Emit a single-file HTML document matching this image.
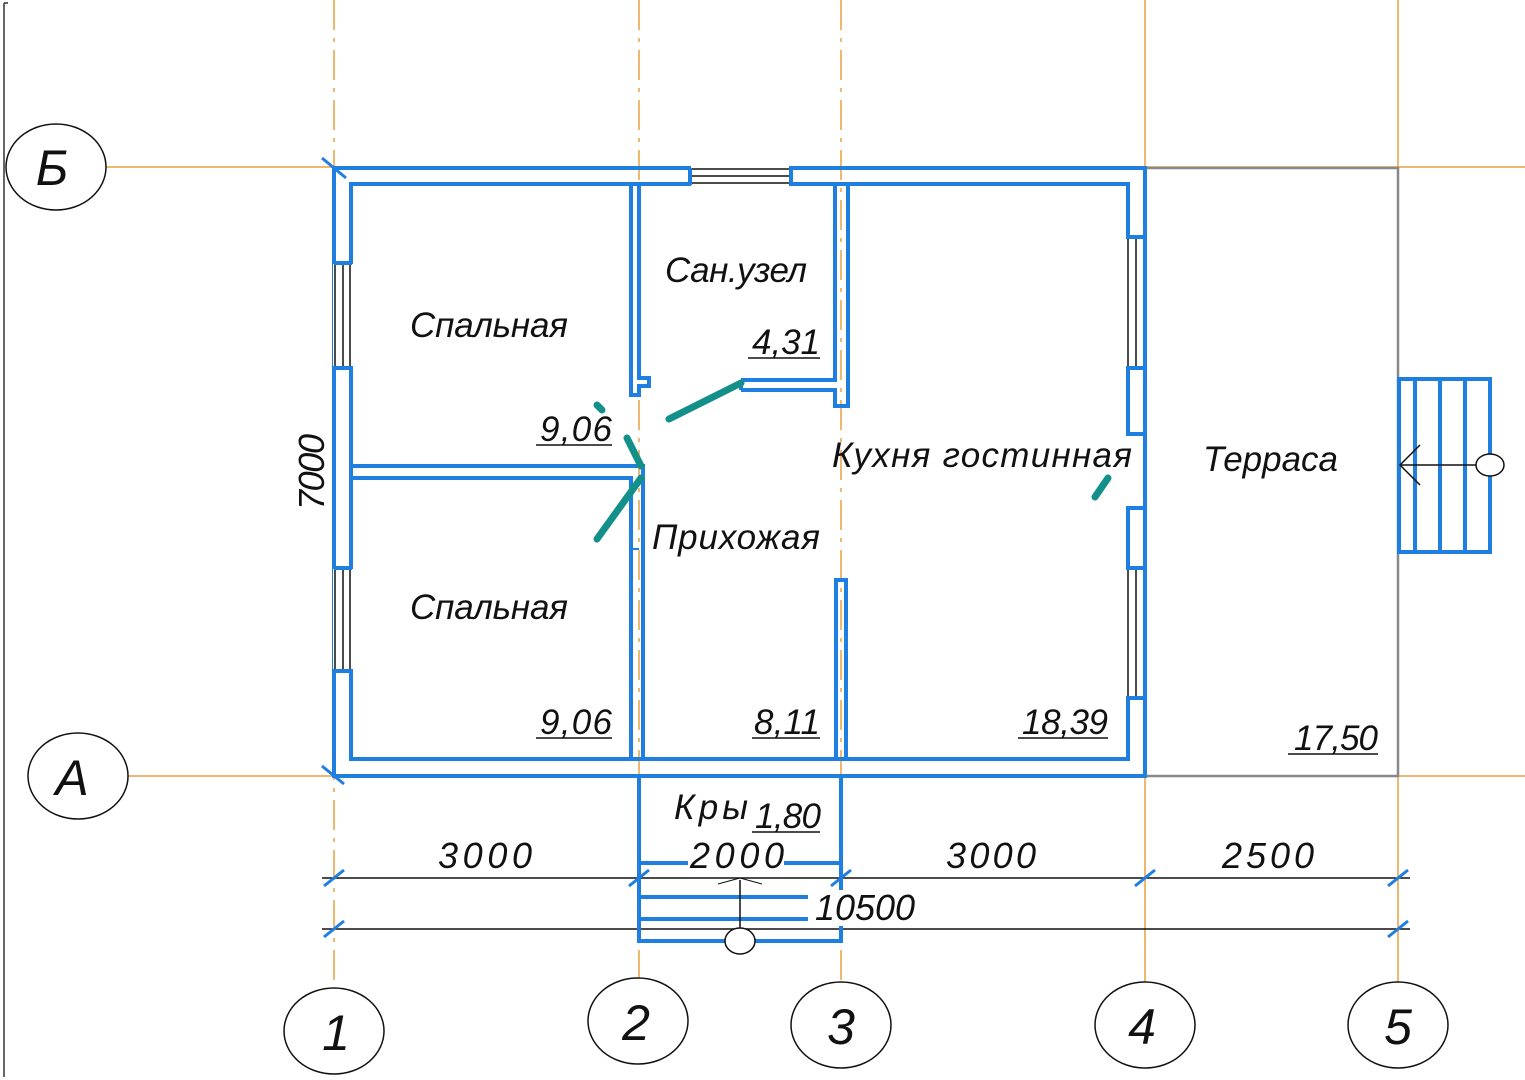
<!DOCTYPE html>
<html><head><meta charset="utf-8"><style>
html,body{margin:0;padding:0;background:#fff;}
svg{display:block;}
text{font-family:"Liberation Sans",sans-serif;font-style:italic;fill:#111;}
</style></head><body>
<svg width="1525" height="1080" viewBox="0 0 1525 1080" xmlns="http://www.w3.org/2000/svg">
<line x1="4" y1="3" x2="4" y2="1077" stroke="#333" stroke-width="1.5"/>
<line x1="4" y1="3" x2="8" y2="3" stroke="#333" stroke-width="1.5"/>
<g stroke="#e8a040" stroke-width="1.5" fill="none">
<line x1="334" y1="0" x2="334" y2="990" stroke-dasharray="30,8,4,8"/>
<line x1="639" y1="0" x2="639" y2="978" stroke-dasharray="30,8,4,8"/>
<line x1="841" y1="0" x2="841" y2="983" stroke-dasharray="30,8,4,8"/>
<line x1="1145" y1="0" x2="1145" y2="983"/>
<line x1="1398" y1="0" x2="1398" y2="983"/>
<line x1="106" y1="167" x2="1525" y2="167"/>
<line x1="128" y1="776" x2="1525" y2="776"/>
</g>
<g stroke="#111" stroke-width="1.5">
<line x1="322" y1="878" x2="1410" y2="878"/>
<line x1="322" y1="929" x2="1410" y2="929"/>
<line x1="333" y1="180" x2="333" y2="770"/>
</g>
<g stroke="#1f7fe0" stroke-width="3">
<line x1="324" y1="886" x2="344" y2="870"/><line x1="629" y1="886" x2="649" y2="870"/>
<line x1="831" y1="886" x2="851" y2="870"/><line x1="1135" y1="886" x2="1155" y2="870"/>
<line x1="1388" y1="886" x2="1408" y2="870"/>
<line x1="324" y1="937" x2="344" y2="921"/><line x1="1388" y1="937" x2="1408" y2="921"/>
<line x1="322" y1="158" x2="346" y2="178"/><line x1="322" y1="766" x2="344" y2="784"/>
</g>
<rect x="1145" y="168" width="253" height="608" fill="none" stroke="#888" stroke-width="2.5"/>
<g stroke="#1f7fe0" stroke-width="4" fill="none">
<rect x="1399" y="379" width="91" height="173"/>
<line x1="1415" y1="379" x2="1415" y2="552"/>
<line x1="1440" y1="379" x2="1440" y2="552"/>
<line x1="1465" y1="379" x2="1465" y2="552"/>
</g>
<line x1="1400" y1="465" x2="1478" y2="465" stroke="#111" stroke-width="1.5"/>
<polyline points="1420,445 1400,465 1420,485" fill="none" stroke="#111" stroke-width="1.5"/>
<ellipse cx="1490" cy="465" rx="14" ry="11" fill="#fff" stroke="#111" stroke-width="1.5"/>
<g stroke="#1f7fe0" stroke-width="4" fill="none">
<rect x="639" y="776" width="202" height="165"/>
<line x1="639" y1="863" x2="841" y2="863"/>
<line x1="639" y1="897" x2="808" y2="897"/>
<line x1="639" y1="919" x2="808" y2="919"/>
</g>
<rect x="688" y="845" width="96" height="30" fill="#fff"/>
<rect x="810" y="890" width="108" height="36" fill="#fff"/>
<line x1="740" y1="880" x2="740" y2="930" stroke="#111" stroke-width="1.5"/>
<polyline points="718,884 740,878" fill="none" stroke="#111" stroke-width="1"/>
<polyline points="762,884 740,878" fill="none" stroke="#111" stroke-width="1"/>
<ellipse cx="740" cy="941" rx="15" ry="13" fill="#fff" stroke="#111" stroke-width="1.5"/>
<g stroke="#1f7fe0" stroke-width="4" fill="none">
<rect x="334" y="168" width="811" height="608"/>
<rect x="351" y="184" width="777" height="575"/>
</g>
<g fill="#fff">
<rect x="333" y="264" width="20" height="102"/>
<rect x="333" y="569" width="20" height="100"/>
<rect x="691" y="166" width="98" height="20"/>
<rect x="1126" y="239" width="21" height="127"/>
<rect x="1126" y="570" width="21" height="126"/>
<rect x="1126" y="436" width="19" height="70"/>
</g>
<g stroke="#111" stroke-width="1.5">
<line x1="335" y1="264" x2="335" y2="366"/><line x1="343" y1="264" x2="343" y2="366"/><line x1="350" y1="264" x2="350" y2="366"/>
<line x1="335" y1="569" x2="335" y2="669"/><line x1="343" y1="569" x2="343" y2="669"/><line x1="350" y1="569" x2="350" y2="669"/>
<line x1="691" y1="169" x2="789" y2="169"/><line x1="691" y1="176" x2="789" y2="176"/><line x1="691" y1="183" x2="789" y2="183"/>
<line x1="1128" y1="239" x2="1128" y2="366"/><line x1="1136" y1="239" x2="1136" y2="366"/><line x1="1144" y1="239" x2="1144" y2="366"/>
<line x1="1128" y1="570" x2="1128" y2="696"/><line x1="1136" y1="570" x2="1136" y2="696"/><line x1="1144" y1="570" x2="1144" y2="696"/>
</g>
<g stroke="#1f7fe0" stroke-width="4" fill="none">
<line x1="334" y1="263" x2="352" y2="263"/><line x1="334" y1="368" x2="352" y2="368"/>
<line x1="334" y1="568" x2="352" y2="568"/><line x1="334" y1="671" x2="352" y2="671"/>
<line x1="690" y1="168" x2="690" y2="185"/><line x1="791" y1="168" x2="791" y2="185"/>
<line x1="1127" y1="237" x2="1145" y2="237"/><line x1="1127" y1="368" x2="1145" y2="368"/>
<line x1="1127" y1="568" x2="1145" y2="568"/><line x1="1127" y1="698" x2="1145" y2="698"/>
<line x1="1127" y1="434" x2="1145" y2="434"/><line x1="1127" y1="508" x2="1145" y2="508"/>
<line x1="1145" y1="168" x2="1145" y2="776"/>
<polyline points="631,184 631,395 639,395 639,386 649,386 649,378 639,378 639,184"/>
<polyline points="351,466 643,466 643,759"/>
<polyline points="351,478 631,478 631,759"/>
<line x1="631" y1="549" x2="639" y2="549" stroke-width="2"/>
<polyline points="835,184 835,380 741,380"/>
<polyline points="848,184 848,406 835,406 835,390 741,390"/>
<line x1="741" y1="380" x2="741" y2="390"/>
<rect x="836" y="580" width="10" height="179"/>
</g>
<g stroke="#14908a" stroke-width="7" stroke-linecap="round" fill="none">
<line x1="669" y1="419" x2="741" y2="383"/>
<line x1="597" y1="539" x2="641" y2="478"/>
<line x1="627" y1="438" x2="641" y2="466"/>
<line x1="597" y1="405" x2="602" y2="410"/>
<line x1="1095" y1="497" x2="1108" y2="478"/>
</g>
<g font-size="35">
<text x="410" y="337" textLength="158">Спальная</text>
<text x="410" y="619" textLength="158">Спальная</text>
<text x="665" y="282" textLength="142">Сан.узел</text>
<text x="652" y="549" textLength="168">Прихожая</text>
<text x="832" y="467" textLength="300">Кухня гостинная</text>
<text x="1203" y="471" textLength="135">Терраса</text>
<text x="674" y="819" textLength="74">Кры</text>
</g>
<g font-size="35">
<text x="540" y="441" textLength="72">9,06</text>
<text x="752" y="354" textLength="68">4,31</text>
<text x="540" y="734" textLength="72">9,06</text>
<text x="754" y="734" textLength="66">8,11</text>
<text x="1022" y="734" textLength="86">18,39</text>
<text x="1294" y="750" textLength="84">17,50</text>
<text x="755" y="828" textLength="66">1,80</text>
</g>
<g font-size="36">
<text x="438" y="868" textLength="94">3000</text>
<text x="690" y="868" textLength="94">2000</text>
<text x="946" y="868" textLength="90">3000</text>
<text x="1222" y="868" textLength="92">2500</text>
<text x="815" y="920" textLength="100">10500</text>
<text x="0" y="0" transform="translate(324,510) rotate(-90)" textLength="76">7000</text>
</g>
<g stroke="#111" stroke-width="1.5">
<line x1="536" y1="445" x2="612" y2="445"/><line x1="748" y1="358" x2="820" y2="358"/>
<line x1="536" y1="738" x2="612" y2="738"/><line x1="752" y1="738" x2="820" y2="738"/>
<line x1="1018" y1="738" x2="1108" y2="738"/><line x1="1288" y1="754" x2="1378" y2="754"/>
<line x1="752" y1="832" x2="820" y2="832"/>
</g>
<g fill="#fff" stroke="#111" stroke-width="1.5">
<ellipse cx="56" cy="167" rx="50" ry="43"/>
<ellipse cx="78" cy="776" rx="50" ry="43"/>
<ellipse cx="334" cy="1031" rx="50" ry="43"/>
<ellipse cx="638" cy="1021" rx="50" ry="43"/>
<ellipse cx="841" cy="1025" rx="50" ry="43"/>
<ellipse cx="1145" cy="1025" rx="50" ry="43"/>
<ellipse cx="1398" cy="1025" rx="50" ry="43"/>
</g>
<g font-size="50" text-anchor="middle">
<text x="52" y="185">Б</text>
<text x="72" y="795">А</text>
<text x="336" y="1050">1</text>
<text x="636" y="1040">2</text>
<text x="841" y="1044">3</text>
<text x="1142" y="1044">4</text>
<text x="1398" y="1044">5</text>
</g>
</svg>
</body></html>
